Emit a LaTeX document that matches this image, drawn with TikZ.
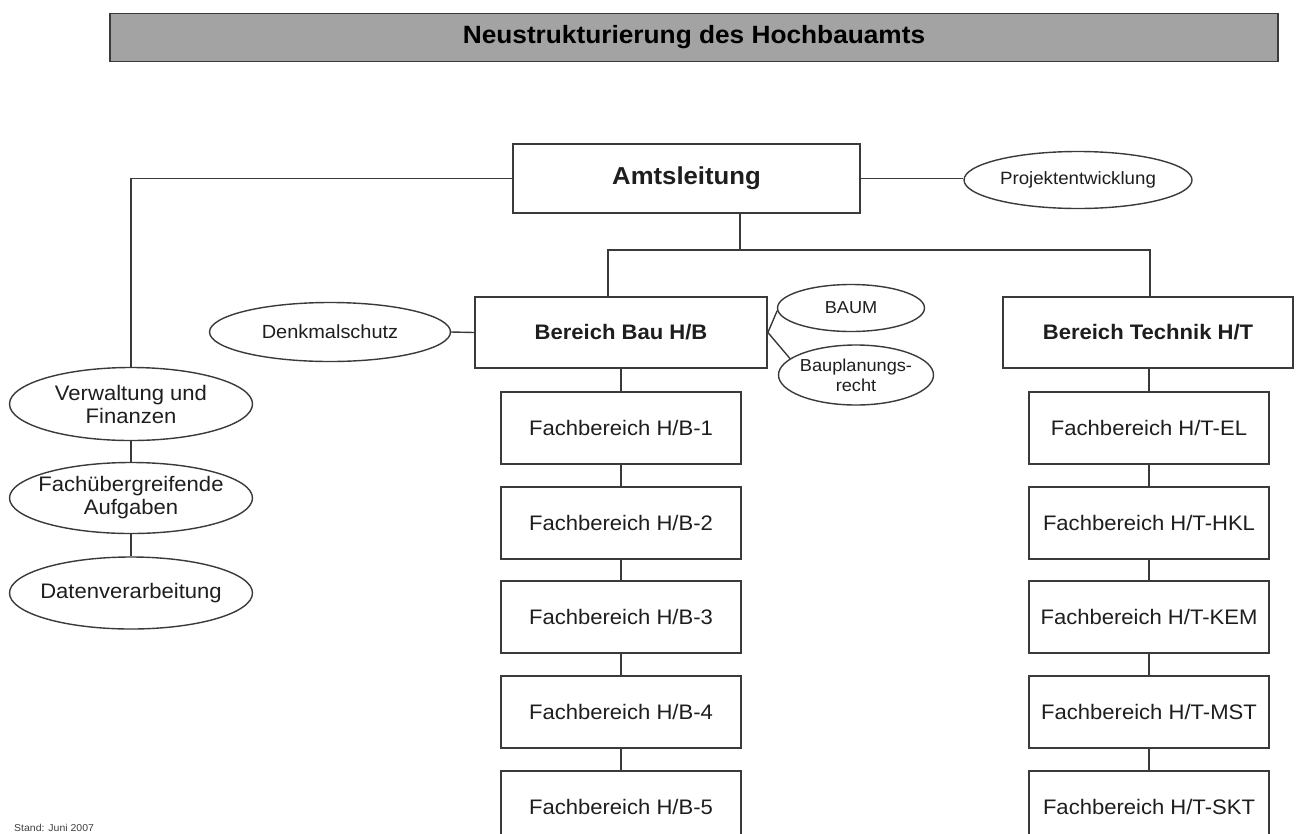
\documentclass[tikz,border=0pt]{standalone}
\usepackage{fontspec}
\setmainfont{Liberation Sans}[FakeStretch=1.05]
\usetikzlibrary{shapes.geometric}
\definecolor{linec}{HTML}{3A3A3A}
\definecolor{titlefill}{HTML}{A3A3A3}
\definecolor{txt}{HTML}{1E1E1E}
\begin{document}
\begin{tikzpicture}[x=1pt,y=-1pt,
  conn/.style={draw=linec, line width=1.4pt},
  box/.style={draw=linec, line width=1.8pt, rectangle, inner sep=0pt, fill=white, align=center, text=txt},
  fbbox/.style={box, minimum width=240pt, minimum height=72pt, font=\fontsize{21}{24}\selectfont},
  bereich/.style={box, minimum width=290pt, minimum height=71pt, font=\bfseries\fontsize{21}{24}\selectfont},
  ell/.style={draw=linec, line width=1.4pt, ellipse, inner xsep=-20pt, inner ysep=-6pt, align=center, fill=white, text=txt},
  leftell/.style={ell, minimum width=243pt, font=\fontsize{21}{23}\selectfont},
]
\useasboundingbox (0,0) rectangle (1297,833);
\fill[white] (0,0) rectangle (1297,833);

% title bar
\node[draw=linec, line width=1.8pt, fill=titlefill, minimum width=1168pt, minimum height=48pt, inner sep=0pt,
      font=\bfseries\fontsize{25}{29}\selectfont, text=black] (title) at (694,37.5) {Neustrukturierung des Hochbauamts};

% top level
\node[box, minimum width=347pt, minimum height=69pt, font=\bfseries\fontsize{24.5}{28}\selectfont] (amt) at (686.5,178.5) {Amtsleitung};
\node[ell, minimum width=228pt, minimum height=57pt, font=\fontsize{17.8}{21}\selectfont] (proj) at (1078,180) {Projektentwicklung};

% Bereiche
\node[bereich, minimum width=292pt] (bau) at (621,332.5) {Bereich Bau H/B};
\node[bereich] (tech) at (1148,332.5) {Bereich Technik H/T};

\node[ell, minimum width=241pt, minimum height=59pt, font=\fontsize{19}{22}\selectfont] (denk) at (330,332) {Denkmalschutz};
\node[ell, minimum width=147pt, minimum height=47pt, font=\fontsize{17.3}{20}\selectfont] (baum) at (851,308) {BAUM};
\node[ell, minimum width=155pt, minimum height=60pt, font=\fontsize{17.3}{20}\selectfont] (bplan) at (856,375) {Bauplanungs-\\recht};

% Fachbereiche
\node[fbbox] (b1) at (621,428) {Fachbereich H/B-1};
\node[fbbox] (b2) at (621,523) {Fachbereich H/B-2};
\node[fbbox] (b3) at (621,617) {Fachbereich H/B-3};
\node[fbbox] (b4) at (621,712) {Fachbereich H/B-4};
\node[fbbox] (b5) at (621,807) {Fachbereich H/B-5};

\node[fbbox] (t1) at (1149,428) {Fachbereich H/T-EL};
\node[fbbox] (t2) at (1149,523) {Fachbereich H/T-HKL};
\node[fbbox] (t3) at (1149,617) {Fachbereich H/T-KEM};
\node[fbbox] (t4) at (1149,712) {Fachbereich H/T-MST};
\node[fbbox] (t5) at (1149,807) {Fachbereich H/T-SKT};

% left staff units
\node[leftell, minimum height=73pt] (verw) at (131,404) {Verwaltung und\\Finanzen};
\node[leftell, minimum height=71pt] (fach) at (131,498) {Fachübergreifende\\Aufgaben};
\node[leftell, minimum height=72pt] (daten) at (131,593) {Datenverarbeitung};

% footer
\node[anchor=west, inner sep=0pt, font=\fontsize{10}{12}\selectfont, text=black!75] (stand) at (14,828) {Stand: Juni 2007};

% connectors
\coordinate (hub) at (740,250);
\coordinate (bl) at (608,250);
\coordinate (tl) at (1150,250);
\draw[conn] (amt.east) -- (amt.east -| proj.west);
\draw[conn] (amt.west) -| (verw.north);
\draw[conn] (amt.south -| hub) -- (hub);
\draw[conn] (bl |- bau.north) -- (bl) -- (tl) -- (tl |- tech.north);
\draw[conn] (denk.east) -- (bau.west);
\draw[conn] (bau.east) -- (baum.182);
\draw[conn] (bau.east) -- (bplan.166);

\draw[conn] (bau.south) -- (b1.north);
\draw[conn] (b1.south) -- (b2.north);
\draw[conn] (b2.south) -- (b3.north);
\draw[conn] (b3.south) -- (b4.north);
\draw[conn] (b4.south) -- (b5.north);

\draw[conn] (t1.north |- tech.south) -- (t1.north);
\draw[conn] (t1.south) -- (t2.north);
\draw[conn] (t2.south) -- (t3.north);
\draw[conn] (t3.south) -- (t4.north);
\draw[conn] (t4.south) -- (t5.north);

\draw[conn] (verw.south) -- (fach.north);
\draw[conn] (fach.south) -- (daten.north);
\end{tikzpicture}
\end{document}
